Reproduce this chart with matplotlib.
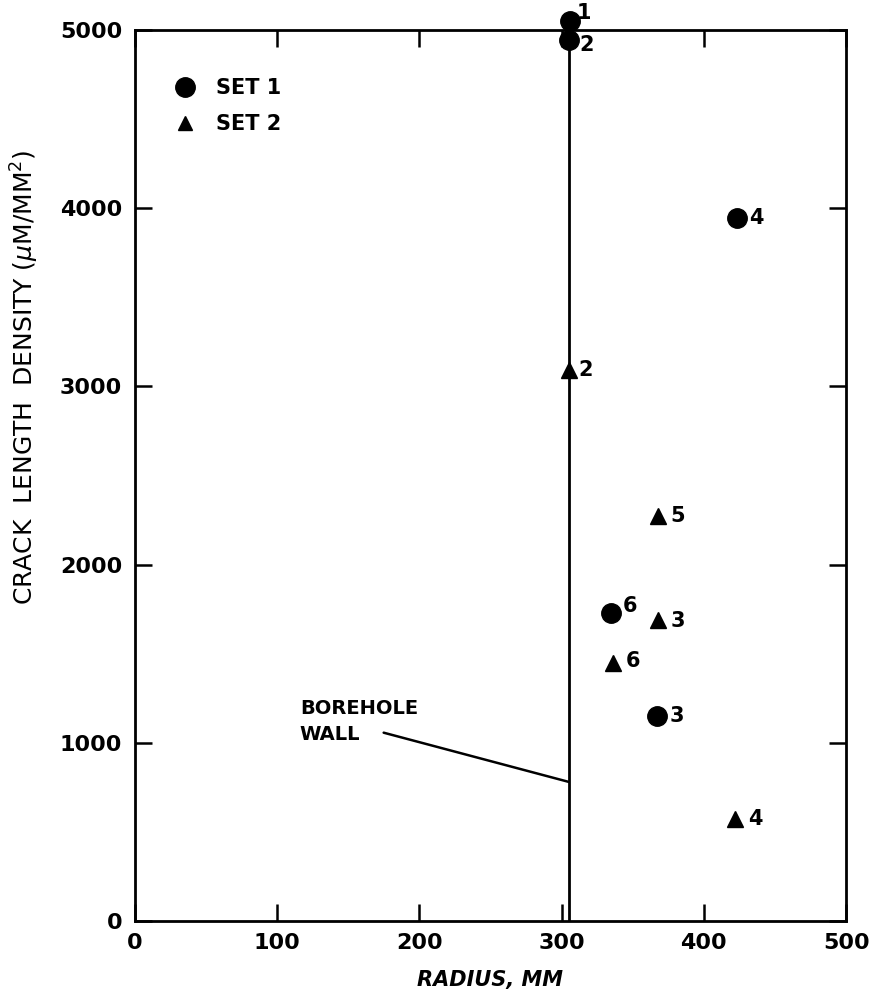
import matplotlib
matplotlib.use("Agg")
import matplotlib.pyplot as plt
from matplotlib.lines import Line2D

# Set 1 (circles)
set1_radius = [306, 305, 423, 335, 367]
set1_density = [5050, 4945, 3945, 1730, 1150]
set1_labels = ["1", "2", "4", "6", "3"]

# Set 2 (triangles)
set2_radius = [305, 368, 368, 336, 422]
set2_density = [3090, 2275, 1690, 1450, 570]
set2_labels = ["2", "5", "3", "6", "4"]

borehole_radius = 305
x_ticks = [0, 100, 200, 300, 400, 500]
y_ticks = [0, 1000, 2000, 3000, 4000, 5000]

plt.rcParams['font.family'] = ['DejaVu Sans']
fig = plt.figure(figsize=(8.75, 10.02), dpi=100)
ax = fig.add_axes([0.154, 0.081, 0.813, 0.889])

ax.axvline(borehole_radius, color='black', lw=2)

ax.plot(set1_radius, set1_density, 'o', color='black', ms=14, clip_on=False, zorder=3)
ax.plot(set2_radius, set2_density, '^', color='black', ms=11, clip_on=False, zorder=3)

# point labels (offsets in points)
off1 = [(5, 6), (8, -4), (9, 0), (8, 5), (9, 0)]
for x, y, lab, (dx, dy) in zip(set1_radius, set1_density, set1_labels, off1):
    ax.annotate(lab, (x, y), xytext=(dx, dy), textcoords='offset points',
                fontsize=15, fontweight='bold', va='center', ha='left',
                annotation_clip=False)
off2 = [(7, 0), (9, 0), (9, -1), (9, 1), (9, 0)]
for x, y, lab, (dx, dy) in zip(set2_radius, set2_density, set2_labels, off2):
    ax.annotate(lab, (x, y), xytext=(dx, dy), textcoords='offset points',
                fontsize=15, fontweight='bold', va='center', ha='left')

# borehole wall callout
ax.annotate("BOREHOLE\nWALL", xy=(borehole_radius, 780), xytext=(116, 1120),
            fontsize=14, fontweight='bold', ha='left', va='center', linespacing=1.5,
            arrowprops=dict(arrowstyle='-', color='black', lw=1.8, patchA=None,
                            shrinkA=0, shrinkB=0, relpos=(0.71, 0.25)))

ax.set_xlim(0, 500)
ax.set_ylim(0, 5000)
ax.set_xticks(x_ticks)
ax.set_yticks(y_ticks)
ax.tick_params(direction='in', length=12, width=1.8, top=True, right=True,
               labelsize=16, pad=9)
for lab in ax.get_xticklabels() + ax.get_yticklabels():
    lab.set_fontweight('bold')
for sp in ax.spines.values():
    sp.set_linewidth(2)

ax.set_xlabel("RADIUS, MM", fontsize=15, fontweight='bold', style='italic', labelpad=12)
ax.set_ylabel(r"CRACK  LENGTH  DENSITY ($\mu$M/MM$^2$)", fontsize=18)
ax.yaxis.set_label_coords(-0.132, 0.61)

handles = [Line2D([], [], marker='o', color='black', ls='', ms=14),
           Line2D([], [], marker='^', color='black', ls='', ms=10)]
ax.legend(handles, ["SET 1", "SET 2"], loc='upper left', bbox_to_anchor=(0.015, 0.967),
          frameon=False, prop={'size': 15, 'weight': 'bold'}, handletextpad=0.5,
          labelspacing=0.75)

fig.savefig("out.png", dpi=100)
